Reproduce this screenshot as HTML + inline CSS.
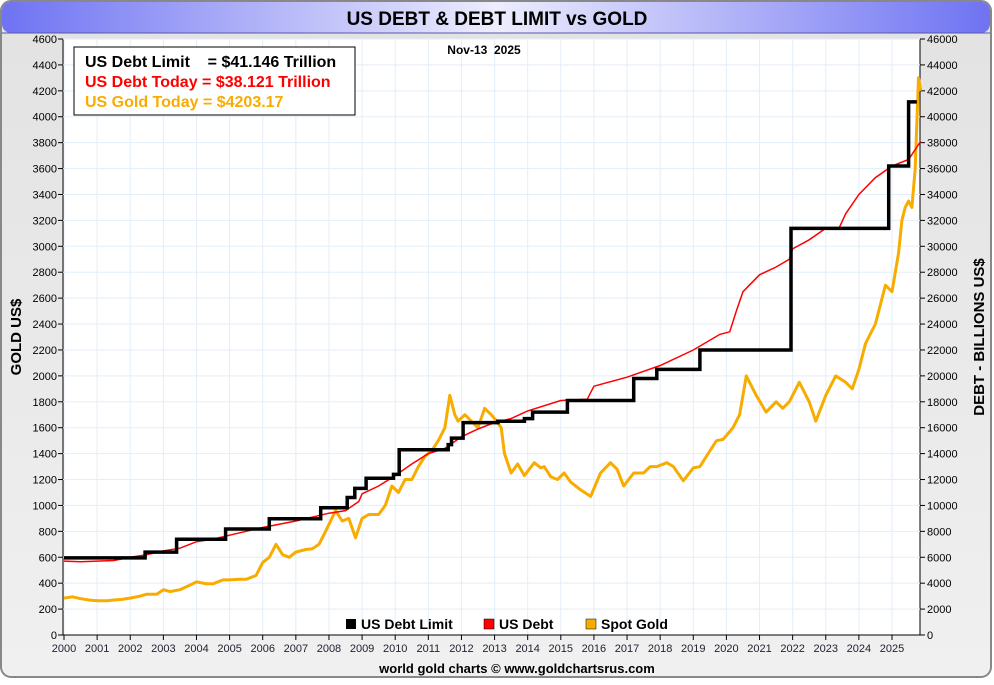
<!DOCTYPE html>
<html><head><meta charset="utf-8">
<style>
body{margin:0;width:994px;height:680px;overflow:hidden;background:#fff;font-family:"Liberation Sans",sans-serif}
svg text{font-family:"Liberation Sans",sans-serif}
</style></head><body>
<svg id="c" width="994" height="680" xmlns="http://www.w3.org/2000/svg">
<defs>
<linearGradient id="tg" x1="0" x2="1"><stop offset="0" stop-color="#6f73f2"/><stop offset="0.5" stop-color="#ededfd"/><stop offset="1" stop-color="#6f73f2"/></linearGradient>
<linearGradient id="bg" x1="0" y1="0" x2="0" y2="1"><stop offset="0" stop-color="#e2e2e2"/><stop offset="1" stop-color="#f0f0f0"/></linearGradient>
</defs>
<rect x="1" y="1" width="990" height="676" rx="10" fill="url(#bg)" stroke="#888" stroke-width="2"/>
<rect x="2" y="2" width="988" height="31" rx="9" fill="url(#tg)"/>
<line x1="2" y1="33" x2="990" y2="33" stroke="#5558aa" stroke-width="1"/>
<text x="497" y="25" text-anchor="middle" font-size="19" font-weight="bold">US DEBT &amp; DEBT LIMIT vs GOLD</text>
<rect x="63" y="39" width="857" height="596" fill="#fff" stroke="#000"/>
<g id="grid"></g><g id="axes"></g><g id="series"></g>
<text x="484" y="54" text-anchor="middle" font-size="12" font-weight="bold" xml:space="preserve" style="white-space:pre">Nov-13  2025</text>
<rect x="74" y="47" width="281" height="68" fill="#fff" stroke="#000"/>
<text x="85" y="67" font-size="16" font-weight="bold" fill="#000" xml:space="preserve" style="white-space:pre">US Debt Limit    = $41.146 Trillion</text>
<text x="85" y="87" font-size="16" font-weight="bold" fill="#f00">US Debt Today = $38.121 Trillion</text>
<text x="85" y="107" font-size="16" font-weight="bold" fill="#f8ac00">US Gold Today = $4203.17</text>
<text transform="translate(21,337) rotate(-90)" text-anchor="middle" font-size="15" font-weight="bold">GOLD US$</text>
<text transform="translate(984,337) rotate(-90)" text-anchor="middle" font-size="15" font-weight="bold">DEBT - BILLIONS US$</text>
<g>
<rect x="346" y="619" width="10" height="10" fill="#000"/>
<text x="361" y="629" font-size="14" font-weight="bold">US Debt Limit</text>
<rect x="484" y="619" width="10" height="10" fill="#f00" stroke="#000" stroke-width="0.5"/>
<text x="499" y="629" font-size="14" font-weight="bold">US Debt</text>
<rect x="586" y="619" width="10" height="10" fill="#f8ac00" stroke="#000" stroke-width="0.5"/>
<text x="601" y="629" font-size="14" font-weight="bold">Spot Gold</text>
</g>
<text x="517" y="673" text-anchor="middle" font-size="13" font-weight="bold">world gold charts © www.goldchartsrus.com</text>
</svg>
<script>
const years=[2000,2001,2002,2003,2004,2005,2006,2007,2008,2009,2010,2011,2012,2013,2014,2015,2016,2017,2018,2019,2020,2021,2022,2023,2024,2025];
const leftTicks=[0,200,400,600,800,1000,1200,1400,1600,1800,2000,2200,2400,2600,2800,3000,3200,3400,3600,3800,4000,4200,4400,4600];
const limitT=[2000,2002.45,2003.4,2004.88,2006.2,2007.75,2008.55,2008.78,2009.12,2009.95,2010.12,2011.6,2011.7,2012.05,2013.1,2013.9,2014.15,2015.2,2017.2,2017.9,2019.2,2021.95,2024.9,2025.5,2025.75];
const limitV=[5950,6400,7384,8184,8965,9815,10615,11315,12104,12394,14294,14694,15194,16394,16500,16700,17200,18100,19800,20500,22000,31381,36200,41146,41146];
const debtT=[2000,2000.5,2001,2001.5,2002,2002.5,2003,2003.5,2004,2004.5,2005,2006,2007,2008,2008.5,2008.9,2009,2009.5,2010,2010.5,2011,2011.5,2012,2012.5,2013,2013.5,2014,2015,2015.8,2016,2017,2018,2019,2019.8,2020.1,2020.3,2020.5,2021,2021.5,2021.9,2022,2022.5,2023,2023.4,2023.6,2024,2024.5,2025,2025.5,2025.87];
const debtV=[5700,5650,5700,5750,6000,6200,6500,6700,7200,7400,7700,8300,8800,9400,9600,10300,10900,11500,12300,13200,14000,14400,15300,15900,16400,16700,17300,18100,18200,19200,19900,20800,22000,23200,23400,25000,26500,27800,28400,29000,29800,30500,31400,31400,32500,34000,35300,36200,36700,38121];
const goldT=[2000,2000.25,2000.5,2000.75,2001,2001.3,2001.5,2001.75,2002,2002.3,2002.5,2002.8,2003,2003.2,2003.5,2003.8,2004,2004.3,2004.5,2004.8,2005,2005.3,2005.5,2005.8,2006,2006.2,2006.4,2006.6,2006.8,2007,2007.3,2007.5,2007.7,2007.9,2008.2,2008.4,2008.6,2008.8,2009,2009.2,2009.5,2009.7,2009.9,2010.1,2010.3,2010.5,2010.7,2010.9,2011.1,2011.3,2011.5,2011.65,2011.8,2011.9,2012.1,2012.3,2012.5,2012.7,2012.9,2013,2013.2,2013.3,2013.5,2013.7,2013.9,2014.2,2014.4,2014.5,2014.7,2014.9,2015.1,2015.3,2015.6,2015.9,2016.2,2016.5,2016.7,2016.9,2017.2,2017.5,2017.7,2017.9,2018.2,2018.4,2018.7,2019,2019.2,2019.5,2019.7,2019.9,2020.2,2020.4,2020.6,2020.9,2021.2,2021.5,2021.7,2021.9,2022.2,2022.5,2022.7,2023,2023.3,2023.6,2023.8,2024,2024.2,2024.3,2024.5,2024.8,2025,2025.2,2025.3,2025.4,2025.5,2025.6,2025.7,2025.8,2025.87];
const goldV=[285,295,280,270,265,265,270,275,285,300,315,315,350,335,350,385,410,395,395,425,425,430,430,460,560,600,700,620,600,640,660,665,700,800,960,880,900,750,900,930,930,1000,1150,1100,1200,1200,1300,1380,1420,1500,1600,1850,1700,1650,1700,1650,1600,1750,1700,1670,1600,1400,1250,1320,1230,1330,1290,1300,1220,1200,1250,1180,1120,1070,1250,1330,1280,1150,1250,1250,1300,1300,1330,1300,1190,1290,1300,1420,1500,1510,1600,1700,2000,1850,1720,1800,1750,1800,1950,1800,1650,1850,2000,1950,1900,2050,2250,2300,2400,2700,2650,2950,3200,3300,3350,3300,3600,4300,4200];
const NS='http://www.w3.org/2000/svg';
const X=t=>64+(t-2000)*33.12, YL=v=>635-v*596/4600, YR=v=>635-v*596/46000;
function mk(tag,at,parent){const e=document.createElementNS(NS,tag);for(const k in at)e.setAttribute(k,at[k]);document.getElementById(parent).appendChild(e);return e;}
years.forEach(y=>{const x=X(y);
 const g=mk('line',{x1:x,x2:x,y1:39,y2:635,stroke:'#e3eef8'},'grid');
 
 
 const tk=mk('line',{x1:x,x2:x,y1:635,y2:640,stroke:'#000'},'axes');
 
 
 const t=mk('text',{x:x,y:652,'text-anchor':'middle','font-size':11,fill:'#223'},'axes');t.textContent=y;
 
 
});
leftTicks.forEach(v=>{const y=YL(v);
 const g=mk('line',{x1:63,x2:920,y1:y,y2:y,stroke:'#e3eef8'},'grid');
 
 
 mk('line',{x1:58,x2:63,y1:y,y2:y,stroke:'#000'},'axes');
 mk('line',{x1:920,x2:925,y1:y,y2:y,stroke:'#000'},'axes');
 const t=mk('text',{x:57,y:y+4,'text-anchor':'end','font-size':11},'axes');t.textContent=v;
 
 
 const r=mk('text',{x:927,y:y+4,'font-size':11},'axes');r.textContent=v*10;
 
 
});
mk('line',{x1:63,x2:920,y1:635,y2:635,stroke:'#000'},'axes');
let d='';goldT.forEach((t,i)=>{d+=(i?'L':'M')+X(t).toFixed(1)+' '+YL(goldV[i]).toFixed(1);});
const gp=mk('path',{d:d,fill:'none',stroke:'#f8ac00','stroke-width':3,'stroke-linejoin':'round'},'series');


d='';debtT.forEach((t,i)=>{d+=(i?'L':'M')+X(t).toFixed(1)+' '+YR(debtV[i]).toFixed(1);});
const dp=mk('path',{d:d,fill:'none',stroke:'#f00','stroke-width':1.5},'series');


d='';limitT.forEach((t,i)=>{const x=X(t).toFixed(1),y=YR(limitV[i]).toFixed(1);d+=i?('H'+x+'V'+y):('M'+x+' '+y);});
const lp=mk('path',{d:d,fill:'none',stroke:'#000','stroke-width':3.5},'series');


</script>
</body></html>
